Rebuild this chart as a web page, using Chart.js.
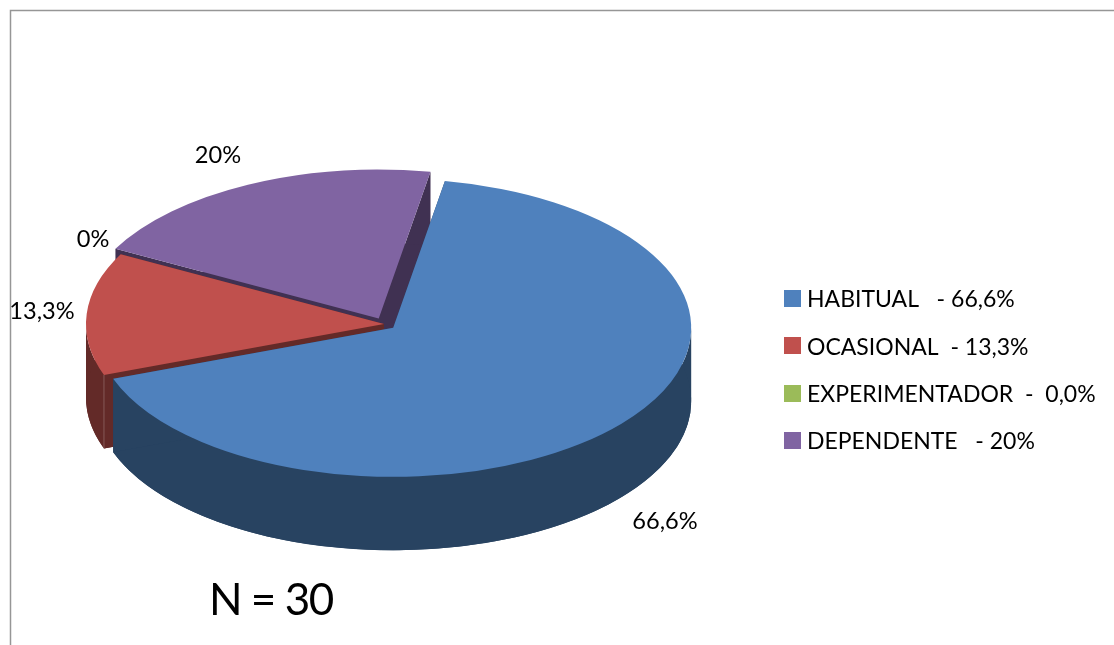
<!DOCTYPE html>
<html>
<head>
<meta charset="utf-8">
<title>N = 30</title>
<script src="https://cdn.jsdelivr.net/npm/chart.js@4/dist/chart.umd.min.js"></script>
<style>
    html, body { margin: 0; padding: 0; background: #fff; overflow: hidden; }
    canvas { display: block; }
</style>
</head>
<body>
<canvas id="pie" width="1114" height="645"></canvas>
<script>
const categories = ['HABITUAL', 'OCASIONAL', 'EXPERIMENTADOR', 'DEPENDENTE'];
const values = [66.6, 13.3, 0, 20];
const legendTexts = ['HABITUAL   - 66,6%', 'OCASIONAL  - 13,3%', 'EXPERIMENTADOR  -  0,0%', 'DEPENDENTE   - 20%'];
const noteText = 'N = 30';

const topColors = ['#4F81BD', '#C0504D', '#9BBB59', '#8064A2'];
const wallColors = ['#284361', '#632A28', '#4F6130', '#403152'];
const explode = [12, 0, 0, 12];

// ellipse the flat pie is squashed onto
const centerX = 384;
const centerY = 324;
const squash = 0.5;
const depth = 147; // in unsquashed pixels, about 73 on screen

const FONT = 'Lato, "Open Sans", sans-serif';
const labelSpots = [[665, 521], [42, 311], [93, 239], [218, 155]];

const pctText = (v) => String(v).replace('.', ',') + '%';

// pull slices out along their mid angle
const explodePlugin = {
    id: 'explode',
    afterDatasetsUpdate(chart) {
        chart.getDatasetMeta(0).data.forEach((arc, i) => {
            const mid = (arc.startAngle + arc.endAngle) / 2;
            arc.x += Math.cos(mid) * explode[i];
            arc.y += Math.sin(mid) * explode[i];
        });
    },
};

// the volume a slice sweeps when pushed straight down: front rim band, two cut faces, floor
const drawWall = (ctx, arc, color) => {
    const { x, y, outerRadius: r, startAngle: a0, endAngle: a1 } = arc;
    ctx.fillStyle = color;

    // only the rim between 0 and PI faces the viewer
    const from = Math.max(a0, 0);
    const to = Math.min(a1, Math.PI);
    if (from < to) {
        ctx.beginPath();
        ctx.arc(x, y, r, from, to);
        ctx.arc(x, y + depth, r, to, from, true);
        ctx.closePath();
        ctx.fill();
    }

    [a0, a1].forEach((a) => {
        const rimX = x + Math.cos(a) * r;
        const rimY = y + Math.sin(a) * r;
        ctx.beginPath();
        ctx.moveTo(x, y);
        ctx.lineTo(rimX, rimY);
        ctx.lineTo(rimX, rimY + depth);
        ctx.lineTo(x, y + depth);
        ctx.closePath();
        ctx.fill();
    });

    ctx.beginPath();
    ctx.moveTo(x, y + depth);
    ctx.arc(x, y + depth, r, a0, a1);
    ctx.closePath();
    ctx.fill();
};

const tiltPlugin = {
    id: 'tilt',
    beforeDatasetsDraw(chart) {
        const { ctx, chartArea } = chart;
        const midX = (chartArea.left + chartArea.right) / 2;
        const midY = (chartArea.top + chartArea.bottom) / 2;
        ctx.save();
        ctx.translate(centerX, centerY);
        ctx.scale(1, squash);
        ctx.translate(-midX, -midY);

        // back slices first so the front ones cover them
        const arcs = chart.getDatasetMeta(0).data;
        [3, 2, 1, 0].forEach((i) => {
            if (arcs[i].circumference > 0) drawWall(ctx, arcs[i], wallColors[i]);
        });
    },
    afterDatasetsDraw(chart) {
        const { ctx } = chart;
        // pale edge where the red wall turns the corner
        const red = chart.getDatasetMeta(0).data[1];
        const x = red.x + Math.cos(red.startAngle) * red.outerRadius;
        const y = red.y + Math.sin(red.startAngle) * red.outerRadius;
        ctx.strokeStyle = 'rgba(255,255,255,0.3)';
        ctx.lineWidth = 1;
        ctx.beginPath();
        ctx.moveTo(x, y);
        ctx.lineTo(x, y + depth);
        ctx.stroke();
        ctx.restore();
    },
};

const framePlugin = {
    id: 'frame',
    beforeDraw(chart) {
        const { ctx, width, height } = chart;
        ctx.save();
        ctx.fillStyle = '#fff';
        ctx.fillRect(0, 0, width, height);
        ctx.strokeStyle = '#969696';
        ctx.lineWidth = 1.5;
        ctx.beginPath();
        ctx.moveTo(10.5, height);
        ctx.lineTo(10.5, 10.5);
        ctx.lineTo(width, 10.5);
        ctx.stroke();
        ctx.restore();
    },
};

const textPlugin = {
    id: 'texts',
    afterDraw(chart) {
        const { ctx } = chart;
        ctx.save();
        ctx.fillStyle = '#000';
        ctx.textBaseline = 'middle';

        // value labels around the pie
        ctx.textAlign = 'center';
        ctx.font = '23.6px ' + FONT;
        values.forEach((v, i) => {
            ctx.fillText(pctText(v), labelSpots[i][0], labelSpots[i][1]);
        });

        // legend on the right
        ctx.textAlign = 'left';
        ctx.font = '23px ' + FONT;
        categories.forEach((name, i) => {
            const y = 298.5 + i * 47.3;
            ctx.fillStyle = topColors[i];
            ctx.fillRect(784, Math.round(y - 8.5), 17, 17);
            ctx.fillStyle = '#000';
            ctx.fillText(legendTexts[i], 807, y + 1.5);
        });

        ctx.font = '44px ' + FONT;
        ctx.letterSpacing = '-1.5px';
        ctx.fillText(noteText, 209, 601);
        ctx.restore();
    },
};

new Chart(document.getElementById('pie'), {
    type: 'pie',
    data: {
        labels: categories,
        datasets: [{
            data: values,
            backgroundColor: topColors,
            borderWidth: 0,
            clip: false,
        }],
    },
    options: {
        responsive: false,
        animation: false,
        rotation: 10,
        radius: 298,
        plugins: {
            legend: { display: false },
            tooltip: { enabled: false },
        },
    },
    plugins: [framePlugin, explodePlugin, tiltPlugin, textPlugin],
});
</script>
</body>
</html>
